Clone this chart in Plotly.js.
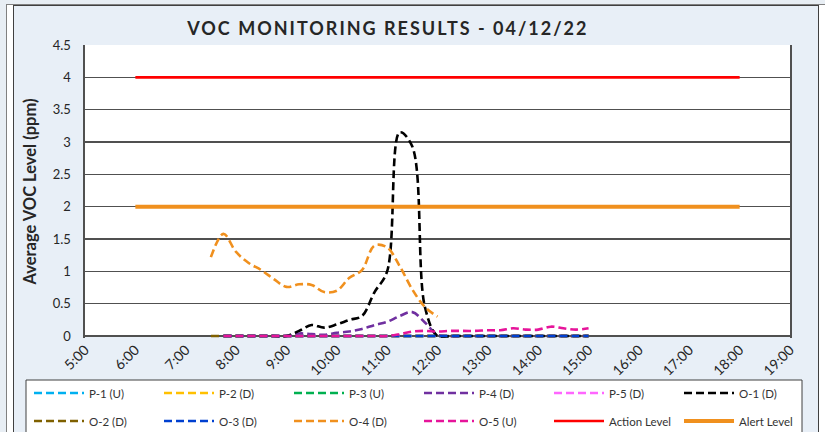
<!DOCTYPE html>
<html>
<head>
<meta charset="utf-8">
<script src="https://cdn.plot.ly/plotly-3.0.1.min.js"></script>
<style>
  html, body { margin:0; padding:0; }
  body { width:825px; height:432px; overflow:hidden; background:#E8EEF4; position:relative; }
  #outer { position:absolute; left:6px; top:4px; width:900px; height:500px; border-left:1px solid #808080; border-top:1px solid #808080; background:#ffffff; }
  #frame { position:absolute; left:13px; top:5px; width:804px; height:500px; border:1px solid #404040; background:#E8EFF7; }
  #chart { position:absolute; left:0; top:0; width:804px; height:426px; }
  .gtitle { letter-spacing: 2px; }
</style>
</head>
<body>
<div id="outer"></div>
<div id="frame"><div id="chart"></div></div>
<script>
// ---- data ----
const day = '2022-04-12';
const times = ['07:30','07:45','08:00','08:15','08:30','08:45','09:00','09:15','09:30','09:45',
               '10:00','10:15','10:30','10:45','11:00','11:15','11:30','11:45','12:00','12:15',
               '12:30','12:45','13:00','13:15','13:30','13:45','14:00','14:15','14:30','14:45','15:00'];

const p1 = [null,0,0,0,0,0,0,0,0,0,0,0,0,0,0,0,0,0,0,0,0,0,0,0,0,0,0,0,0,0,0];
const p2 = [null,0,0,0,0,0,0,0,0,0,0,0,0,0,0,0,0,0,0,0,0,0,0,0,0,0,0,0,0,0,0];
const p3 = [null,0,0,0,0,0,0,0,0,0,0,0,0,0,0,0,0,0,0,0,0,0,0,0,0,0,0,0,0,0,0];
const p4 = [null,0,0,0,0,0,0,0.04,0.03,0.02,0.05,0.07,0.11,0.17,0.22,0.31,0.37,0.21,0.02,0,0,0,0,0,0,0,0,0,0,0,0];
const p5 = [null,0,0,0,0,0,0,0,0,0,0,0,0,0,0,0,0,0,0,0,0,0,0,0,0,0,0,0,0,0,0];
const o1 = [null,0,0,0,0,0,0,0.08,0.17,0.13,0.18,0.25,0.31,0.68,1.0,3.15,2.93,0.45,0,0,0,0,0,0,0,0,0,0,0,0,0];
const o2 = [0,0,0,0,0,0,0,0,0,0,0,0,0,0,0,0,0,0,0,0,0,0,0,0,0,0,0,0,0,0,0];
const o3 = [null,0,0,0,0,0,0,0,0,0,0,0,0,0,0,0,0,0,0,0,0,0,0,0,0,0,0,0,0,0,0];
const o4 = [1.22,1.58,1.30,1.13,1.02,0.88,0.76,0.80,0.79,0.68,0.70,0.90,1.02,1.40,1.37,1.08,0.72,0.45,0.30,
            null,null,null,null,null,null,null,null,null,null,null,null];
const o5 = [null,0,0,0,0,0,0,0,0,0,0,0,0,0,0,0.03,0.07,0.08,0.07,0.08,0.08,0.08,0.09,0.09,0.12,0.10,0.10,0.145,0.12,0.10,0.12];

const levelTimes = ['06:00','18:00'];
const actionLevel = [4,4];
const alertLevel = [2,2];

const seriesNames  = ['P-1 (U)','P-2 (D)','P-3 (U)','P-4 (D)','P-5 (D)','O-1 (D)','O-2 (D)','O-3 (D)','O-4 (D)','O-5 (U)'];
const seriesValues = [p1,p2,p3,p4,p5,o1,o2,o3,o4,o5];
const seriesColors = ['#00B0F0','#FFC000','#00B050','#7030A0','#FF66FF','#000000','#7F6000','#0040D0','#F0901E','#E6149A'];

const yTicks = [0,0.5,1,1.5,2,2.5,3,3.5,4,4.5];
const yTickText = ['0','0.5','1','1.5','2','2.5','3','3.5','4','4.5'];

// ---- build ----
const toDate = t => day + ' ' + t;
const xTimes = times.map(toDate);
const FONT = 'Lato, "Open Sans", sans-serif';

const traces = seriesNames.map((name, i) => ({
  type: 'scatter', mode: 'lines', name: name,
  x: xTimes, y: seriesValues[i],
  line: { color: seriesColors[i], width: 2.6, dash: '8px,4px', shape: 'spline', smoothing: 1 },
  legend: i < 6 ? 'legend' : 'legend2',
  hoverinfo: 'skip'
}));
traces.push({
  type: 'scatter', mode: 'lines', name: 'Action Level',
  x: levelTimes.map(toDate), y: actionLevel,
  line: { color: '#FF0000', width: 2.6 }, legend: 'legend2', hoverinfo: 'skip'
});
traces.push({
  type: 'scatter', mode: 'lines', name: 'Alert Level',
  x: levelTimes.map(toDate), y: alertLevel,
  line: { color: '#F0901E', width: 4 }, legend: 'legend2', hoverinfo: 'skip'
});

// plot area: page x 85..790, y 45..338
const px = p => (p - 85) / 705;
const py = p => (338 - p) / 293;

const legendBase = {
  orientation: 'h', xanchor: 'left', yanchor: 'middle',
  bgcolor: 'rgba(0,0,0,0)', borderwidth: 0,
  font: { family: FONT, size: 11.5, color: '#333333' },
  entrywidth: 65, entrywidthmode: 'pixels', itemwidth: 50, traceorder: 'normal'
};

const layout = {
  width: 804, height: 426,
  margin: { l: 71, r: 28, t: 39, b: 94, autoexpand: false },
  paper_bgcolor: '#E8EFF7',
  plot_bgcolor: 'rgba(0,0,0,0)',
  font: { family: FONT, color: '#262626' },
  title: {
    text: '<b>VOC MONITORING RESULTS - 04/12/22</b>',
    font: { family: FONT, size: 18, color: '#262626' },
    xref: 'container', x: 0.465, xanchor: 'center',
    yref: 'container', y: 1 - 23/426, yanchor: 'middle'
  },
  xaxis: {
    type: 'date', automargin: false,
    range: [toDate('05:00'), toDate('19:00')],
    tick0: toDate('05:00'), dtick: 3600000,
    tickformat: '%-H:%M', tickangle: -45,
    showgrid: false, showline: false, zeroline: false, ticks: '',
    tickfont: { family: FONT, size: 14, color: '#262626' }
  },
  yaxis: {
    automargin: false,
    range: [-0.03, 4.5],
    tickvals: yTicks, ticktext: yTickText,
    showgrid: true, gridcolor: '#505050', gridwidth: 1.4,
    zeroline: false,
    showline: true, linecolor: '#505050', linewidth: 1.6, mirror: true,
    ticks: '', ticklabelstandoff: 10,
    tickfont: { family: FONT, size: 13, color: '#262626' },
    title: { text: '<b>Average VOC Level (ppm)</b>', font: { family: FONT, size: 16.5, color: '#262626' }, standoff: 12 }
  },
  shapes: [
    { type: 'rect', layer: 'below', xref: 'paper', yref: 'y', x0: 0, x1: 1, y0: 0, y1: 4.5,
      fillcolor: '#FFFFFF', line: { width: 0 } },
    { type: 'line', layer: 'below', xref: 'paper', yref: 'y', x0: 0, x1: 1, y0: 0, y1: 0,
      line: { color: '#808080', width: 2 } },
    { type: 'rect', layer: 'below', xref: 'paper', yref: 'paper',
      x0: px(26), x1: px(802), y0: py(445), y1: py(380),
      fillcolor: '#FFFFFF', line: { color: '#404040', width: 1 } }
  ],
  legend: Object.assign({}, legendBase, { x: px(29), y: py(393) }),
  legend2: Object.assign({}, legendBase, { x: px(29), y: py(421) }),
  showlegend: true
};

Plotly.newPlot('chart', traces, layout, { displayModeBar: false, staticPlot: true });
</script>
</body>
</html>
